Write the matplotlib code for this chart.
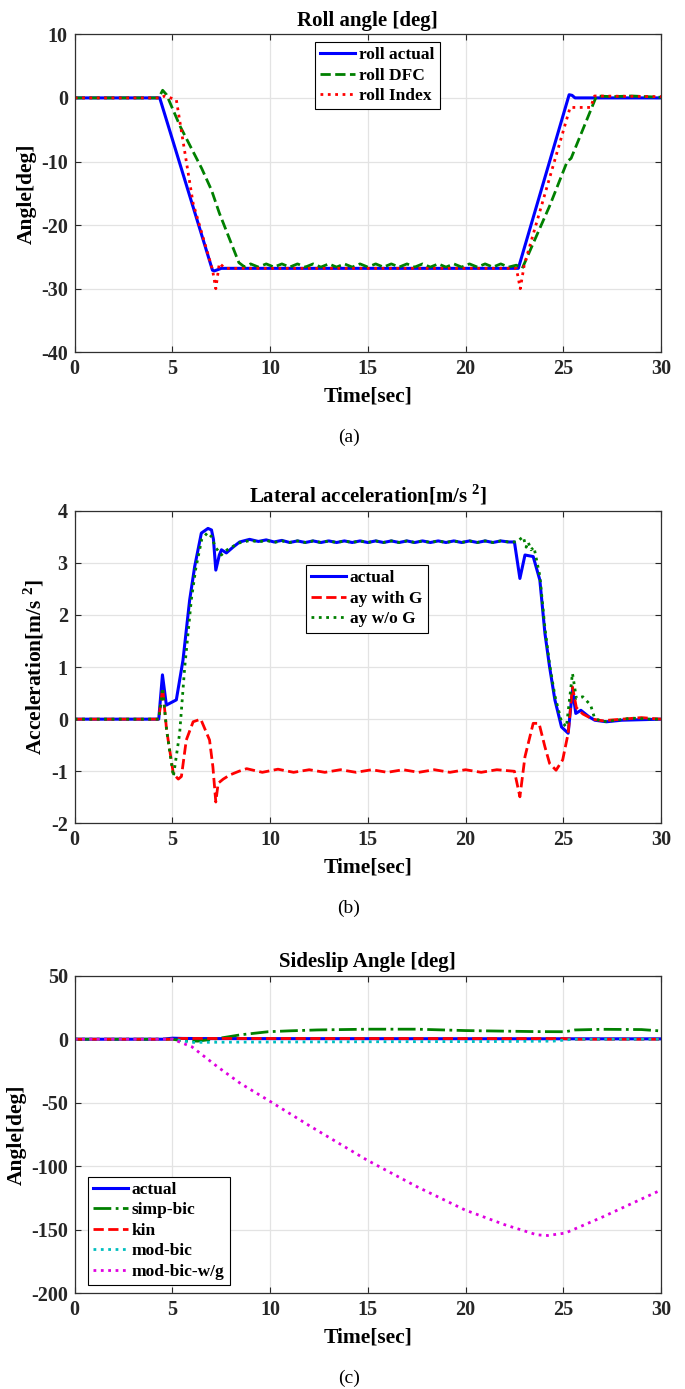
import matplotlib
matplotlib.use("Agg")
import matplotlib.pyplot as plt

plt.rcParams['font.family'] = ['Liberation Serif', 'DejaVu Serif']
plt.rcParams['font.weight'] = 'bold'
plt.rcParams['axes.unicode_minus'] = False
plt.rcParams['mathtext.fontset'] = 'custom'
plt.rcParams['mathtext.rm'] = 'Liberation Serif:bold'
plt.rcParams['mathtext.bf'] = 'Liberation Serif:bold'

# ---------------- Panel (a): roll angle ----------------
t_roll_actual = [0, 4.35, 7.05, 7.15, 7.5, 22.7, 25.3, 25.45, 25.6, 30]
roll_actual = [0, 0, -27.1, -27.2, -26.8, -26.8, 0.5, 0.4, 0.0, 0.0]

t_roll_dfc = [0, 4.3, 4.5, 4.7, 5.4, 6.5, 7.0, 7.4, 8.4, 8.7,
              9.0, 9.4, 9.8, 10.2, 10.6, 11.0, 11.4, 11.8, 12.2, 12.6,
              13.0, 13.4, 13.8, 14.2, 14.6, 15.0, 15.4, 15.8, 16.2, 16.6,
              17.0, 17.4, 17.8, 18.2, 18.6, 19.0, 19.4, 19.8, 20.2, 20.6,
              21.0, 21.4, 21.8, 22.2, 22.6, 22.9, 23.3, 24.3, 25.2, 25.4,
              26.7, 27.5, 28.5, 30]
roll_dfc = [0, 0, 1.2, 0.5, -4.5, -11.1, -14.5, -18.1, -25.9, -26.6,
            -26.1, -26.6, -26.1, -26.6, -26.1, -26.6, -26.1, -26.6, -26.1, -26.6,
            -26.1, -26.6, -26.1, -26.6, -26.1, -26.6, -26.1, -26.6, -26.1, -26.6,
            -26.1, -26.6, -26.1, -26.6, -26.1, -26.6, -26.1, -26.6, -26.1, -26.6,
            -26.1, -26.6, -26.1, -26.6, -26.3, -26.8, -24.0, -17.0, -10.0, -9.5,
            0.3, 0.2, 0.3, 0.1]

t_roll_index = [0, 4.4, 4.6, 5.2, 6.06, 7.05, 7.22, 7.4, 7.7, 22.6, 22.8, 23.0,
                25.35, 26.4, 26.6, 30]
roll_index = [0, 0, 0.3, -0.3, -16.6, -27.0, -30.0, -26.0, -26.8, -26.8, -30.0, -26.3,
              -1.5, -1.5, 0.3, 0.2]

# ---------------- Panel (b): lateral acceleration ----------------
t_ay_actual = [0, 4.3, 4.49, 4.69, 5.2, 5.54, 5.88, 6.14, 6.48, 6.82, 7.0, 7.1,
               7.22, 7.4, 7.51, 7.76, 8.1, 8.44, 8.95,
               9.4, 9.8, 10.2, 10.6, 11.0, 11.4, 11.8, 12.2, 12.6, 13.0, 13.4,
               13.8, 14.2, 14.6, 15.0, 15.4, 15.8, 16.2, 16.6, 17.0, 17.4, 17.8,
               18.2, 18.6, 19.0, 19.4, 19.8, 20.2, 20.6, 21.0, 21.4, 21.8, 22.2,
               22.5, 22.78, 23.04, 23.46, 23.8, 24.06, 24.3, 24.57, 24.91, 25.25,
               25.47, 25.64, 25.9, 26.3, 26.61, 27.2, 28, 30]
ay_actual = [0, 0, 0.85, 0.27, 0.37, 1.13, 2.28, 2.93, 3.57, 3.66, 3.63, 3.45,
             2.86, 3.15, 3.25, 3.19, 3.30, 3.40, 3.45,
             3.41, 3.44, 3.40, 3.43, 3.39, 3.42, 3.39, 3.42, 3.39, 3.42, 3.39,
             3.42, 3.39, 3.42, 3.39, 3.42, 3.39, 3.42, 3.39, 3.42, 3.39, 3.42,
             3.39, 3.42, 3.39, 3.42, 3.39, 3.42, 3.39, 3.42, 3.39, 3.42, 3.40,
             3.40, 2.70, 3.15, 3.12, 2.67, 1.65, 1.00, 0.37, -0.15, -0.27,
             0.56, 0.11, 0.17, 0.05, -0.02, -0.05, -0.02, 0.0]

t_ay_with_g = [0, 4.3, 4.5, 4.7, 5.05, 5.3, 5.46, 5.71, 6.06, 6.45, 6.9, 7.07,
               7.22, 7.34, 7.6, 7.94, 8.4, 8.8,
               9.6, 10.4, 11.2, 12.0, 12.8, 13.6, 14.4, 15.2, 16.0, 16.8, 17.6,
               18.4, 19.2, 20.0, 20.8, 21.6, 22.5,
               22.78, 23.04, 23.46, 23.76, 24.06, 24.3, 24.63, 24.97, 25.25,
               25.47, 25.67, 26.0, 26.5, 27, 28, 29, 30]
ay_with_g = [0, 0, 0.6, -0.2, -1.05, -1.15, -1.1, -0.4, -0.05, 0.0, -0.4, -0.91,
             -1.59, -1.23, -1.15, -1.07, -1.0, -0.95,
             -1.02, -0.96, -1.02, -0.97, -1.02, -0.97, -1.02, -0.97, -1.02, -0.97, -1.02,
             -0.97, -1.02, -0.97, -1.02, -0.97, -1.0,
             -1.49, -0.72, -0.08, -0.08, -0.53, -0.85, -0.98, -0.78, -0.27,
             0.62, 0.22, 0.10, 0.0, -0.03, 0.0, 0.03, 0.0]

t_ay_wo_g = [0, 4.3, 4.5, 4.7, 5.05, 5.37, 5.63, 5.97, 6.2, 6.5, 6.8, 7.0, 7.2,
             7.5, 7.8, 8.4, 9.0,
             9.4, 9.8, 10.2, 10.6, 11.0, 11.4, 11.8, 12.2, 12.6, 13.0, 13.4,
             13.8, 14.2, 14.6, 15.0, 15.4, 15.8, 16.2, 16.6, 17.0, 17.4, 17.8,
             18.2, 18.6, 19.0, 19.4, 19.8, 20.2, 20.6, 21.0, 21.4, 21.8, 22.2,
             22.6, 22.95, 23.1, 23.2, 23.35, 23.5, 23.8, 24.06, 24.3, 24.57,
             24.91, 25.16, 25.47, 25.67, 26.0, 26.4, 26.6, 27.0, 27.5, 28.5, 29.5, 30]
ay_wo_g = [0, 0, 0.6, -0.2, -1.1, -0.27, 1.0, 2.3, 2.9, 3.45, 3.58, 3.5, 3.3,
           3.15, 3.25, 3.38, 3.43,
           3.40, 3.43, 3.39, 3.42, 3.39, 3.42, 3.39, 3.42, 3.39, 3.42, 3.39,
           3.42, 3.39, 3.42, 3.39, 3.42, 3.39, 3.42, 3.39, 3.42, 3.39, 3.42,
           3.39, 3.42, 3.39, 3.42, 3.39, 3.42, 3.39, 3.42, 3.39, 3.42, 3.40,
           3.40, 3.50, 3.30, 3.40, 3.25, 3.30, 2.75, 1.75, 1.05, 0.45,
           -0.05, -0.15, 0.88, 0.40, 0.43, 0.27, 0.02, -0.05, -0.03, 0.02, 0.0, 0.0]

# ---------------- Panel (c): sideslip angle ----------------
t_beta_actual = [0, 4.5, 5.0, 5.5, 6.5, 30]
beta_actual = [0, 0, 0.8, 0.6, 0.5, 0.3]

t_simp_bic = [0, 5, 5.5, 6.3, 7.3, 8.5, 9.9, 11, 12.4, 15, 17.5, 20, 23.6, 25.1,
              25.6, 27, 29, 30]
simp_bic = [0, 0, -1.2, -1.5, 0.5, 3.5, 5.9, 6.6, 7.3, 7.9, 7.9, 6.8, 6.0, 5.9,
            7.3, 7.8, 7.6, 6.5]

t_kin = [0, 5, 5.5, 25, 25.5, 30]
kin = [0, 0, 0.6, 0.5, 0.0, 0.0]

t_mod_bic = [0, 5, 6, 8, 15, 22, 24.5, 25.5, 30]
mod_bic = [0, 0, -2.5, -2.3, -2.0, -1.8, -1.5, 0.0, 0.0]

t_mod_bic_wg = [0, 5, 6, 7.3, 8.5, 9.9, 12, 14.94, 17.5, 19.97, 22, 23.65, 24.2,
                25.1, 27, 30]
mod_bic_wg = [0, 0, -6, -21.6, -35, -48, -68, -95, -116, -134.4, -146, -154,
              -154.5, -152.6, -140, -118.7]

x_ticks = [0, 5, 10, 15, 20, 25, 30]

W, H = 685, 1389
fig = plt.figure(figsize=(W / 100, H / 100), dpi=100)


def make_ax(top_px, bottom_px):
    left, right = 74.7, 661
    return fig.add_axes([left / W, 1 - bottom_px / H, (right - left) / W,
                         (bottom_px - top_px) / H])


def style(ax, ylim, yticks, title, ylabel):
    ax.set_xlim(0, 30)
    ax.set_ylim(*ylim)
    ax.set_xticks(x_ticks)
    ax.set_yticks(yticks)
    ax.grid(True, color='#e3e3e3', linewidth=0.9)
    ax.set_axisbelow(True)
    ax.tick_params(direction='in', top=True, right=True, length=4, width=0.8,
                   labelsize=14.5, colors='#262626', pad=5)
    for lab in ax.get_xticklabels() + ax.get_yticklabels():
        lab.set_fontweight('bold')
    for s in ax.spines.values():
        s.set_color('#303030')
        s.set_linewidth(0.9)
    ax.set_title(title, fontsize=15, fontweight='bold', pad=6)
    ax.set_ylabel(ylabel, fontsize=15.5, fontweight='bold', labelpad=3)
    ax.set_xlabel('Time[sec]', fontsize=15.5, fontweight='bold', labelpad=5)


leg_kw = dict(frameon=True, fancybox=False, edgecolor='black',
              framealpha=1, borderaxespad=0, handlelength=2.0, handletextpad=0.25,
              labelspacing=0.25, borderpad=0.3, prop={'weight': 'bold', 'size': 12.5})

# (a)
ax1 = make_ax(34.3, 352.3)
ax1.plot(t_roll_actual, roll_actual, color='#0000ff', lw=2.2, label='roll actual')
ax1.plot(t_roll_dfc, roll_dfc, color='#008000', lw=2.0, ls='--', label='roll DFC')
ax1.plot(t_roll_index, roll_index, color='#ff0000', lw=2.0, ls=':', label='roll Index')
style(ax1, (-40, 10), [-40, -30, -20, -10, 0, 10], 'Roll angle [deg]', 'Angle[deg]')
l1 = ax1.legend(loc='upper left', bbox_to_anchor=(0.41, 0.976), **leg_kw)
l1.get_frame().set_linewidth(0.8)

# (b)
ax2 = make_ax(510.7, 823.4)
ax2.plot(t_ay_actual, ay_actual, color='#0000ff', lw=2.2, label='actual')
ax2.plot(t_ay_with_g, ay_with_g, color='#ff0000', lw=2.0, ls='--', label='ay with G')
ax2.plot(t_ay_wo_g, ay_wo_g, color='#008000', lw=2.0, ls=':', label='ay w/o G')
style(ax2, (-2, 4), [-2, -1, 0, 1, 2, 3, 4],
      r'Lateral acceleration[m/s $^\mathbf{2}$]', r'Acceleration[m/s $^\mathbf{2}$]')
l2 = ax2.legend(loc='upper left', bbox_to_anchor=(0.394, 0.826), **leg_kw)
l2.get_frame().set_linewidth(0.8)

# (c)
ax3 = make_ax(975.7, 1293.3)
ax3.plot(t_beta_actual, beta_actual, color='#0000ff', lw=2.2, label='actual')
ax3.plot(t_simp_bic, simp_bic, color='#008000', lw=2.0, ls='-.', label='simp-bic')
ax3.plot(t_kin, kin, color='#ff0000', lw=2.0, ls='--', label='kin')
ax3.plot(t_mod_bic, mod_bic, color='#00bfbf', lw=2.0, ls=':', label='mod-bic')
ax3.plot(t_mod_bic_wg, mod_bic_wg, color='#e000e0', lw=2.0, ls=':', label='mod-bic-w/g')
style(ax3, (-200, 50), [-200, -150, -100, -50, 0, 50], 'Sideslip Angle [deg]', 'Angle[deg]')
l3 = ax3.legend(loc='lower left', bbox_to_anchor=(0.022, 0.026), **leg_kw)
l3.get_frame().set_linewidth(0.8)

for txt, ypx in [('(a)', 437), ('(b)', 908), ('(c)', 1378)]:
    fig.text(349 / W, 1 - ypx / H, txt, ha='center', va='center',
             fontsize=14, fontweight='normal')

fig.savefig('out.png', dpi=100)
